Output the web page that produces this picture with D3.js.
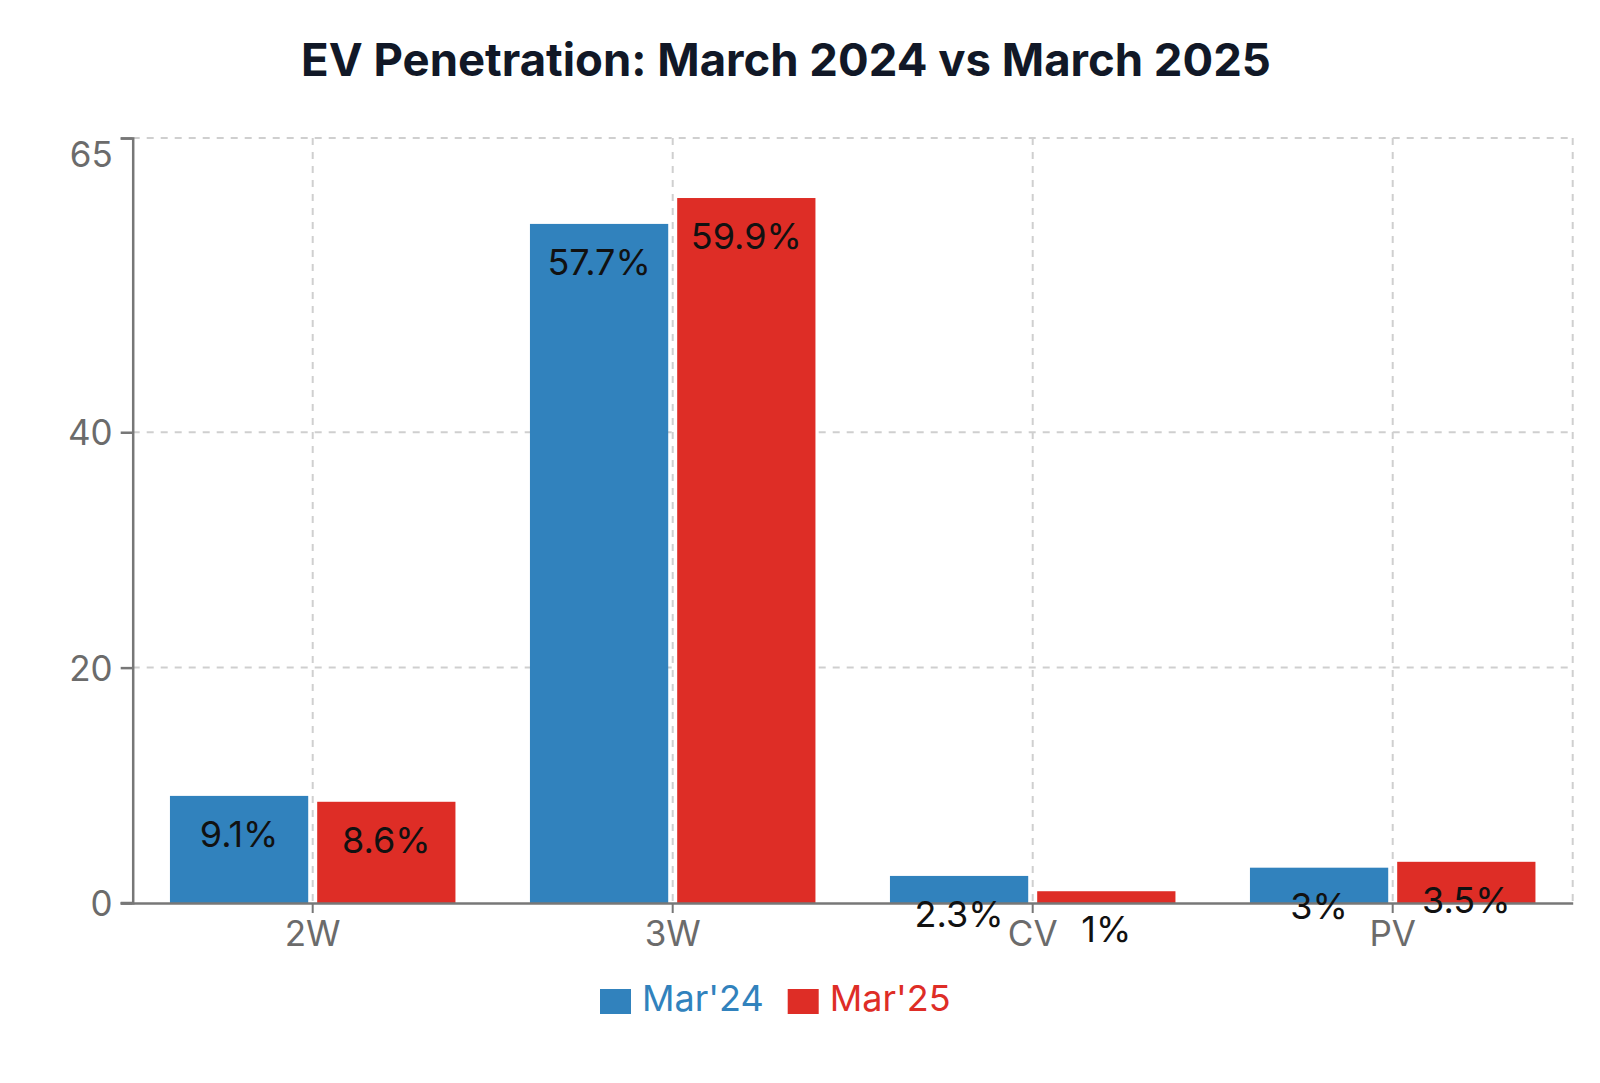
<!DOCTYPE html>
<html lang="en">
<head>
<meta charset="UTF-8">
<title>EV Penetration</title>
<style>
  body { margin: 0; background: #fff; }
  svg text { font-family: Inter, "Noto Sans", sans-serif; }
</style>
</head>
<body>
<script src="https://d3js.org/d3.v7.min.js"></script>
<div id="chart"></div>
<script>
// data
var categories = ["2W", "3W", "CV", "PV"];
var seriesNames = ["Mar'24", "Mar'25"];
var mar24 = [9.1, 57.7, 2.3, 3.0];
var mar25 = [8.6, 59.9, 1.0, 3.5];
var valueLabels24 = ["9.1%", "57.7%", "2.3%", "3%"];
var valueLabels25 = ["8.6%", "59.9%", "1%", "3.5%"];
var yTicks = [0, 20, 40, 65];
var colors = ["#3182bd", "#de2d26"];

var W = 1600, H = 1083;
var margin = {top: 138, right: 27.3, bottom: 180, left: 132.7};
var width = W - margin.left - margin.right,
    height = H - margin.top - margin.bottom;

var svg = d3.select("#chart").append("svg")
    .attr("width", W).attr("height", H);

// title
svg.append("text")
    .attr("x", 786).attr("y", 76)
    .attr("text-anchor", "middle")
    .style("font-size", "45.5px").style("font-weight", 700)
    .style("fill", "#111827")
    .text("EV Penetration: March 2024 vs March 2025");

var g = svg.append("g")
    .attr("transform", "translate(" + margin.left + "," + margin.top + ")");

var x = d3.scaleBand().domain(categories).range([0, width]);
var xSub = d3.scaleBand().domain(seriesNames).range([0, x.bandwidth()])
    .paddingInner(0.061).paddingOuter(0.253);
var y = d3.scaleLinear().domain([0, 65]).range([height, 0]);

// grid
var grid = g.append("g").attr("stroke", "#cfcfcf").attr("stroke-width", 2)
    .attr("stroke-dasharray", "7,7");
grid.selectAll(".hg").data(yTicks.filter(function(d) { return d > 0; }))
  .enter().append("line")
    .attr("x1", 0).attr("x2", width)
    .attr("y1", function(d) { return y(d); })
    .attr("y2", function(d) { return y(d); });
grid.selectAll(".vg").data(categories)
  .enter().append("line")
    .attr("x1", function(d) { return x(d) + x.bandwidth() / 2; })
    .attr("x2", function(d) { return x(d) + x.bandwidth() / 2; })
    .attr("y1", 0).attr("y2", height);
grid.append("line")
    .attr("x1", width).attr("x2", width).attr("y1", 0).attr("y2", height);

// bars
var rows = categories.map(function(c, i) {
  return [
    {cat: c, s: seriesNames[0], v: mar24[i], lab: valueLabels24[i], col: colors[0]},
    {cat: c, s: seriesNames[1], v: mar25[i], lab: valueLabels25[i], col: colors[1]}
  ];
});
var flat = [].concat.apply([], rows);

g.selectAll("rect.bar").data(flat)
  .enter().append("rect")
    .attr("x", function(d) { return x(d.cat) + xSub(d.s); })
    .attr("y", function(d) { return y(d.v); })
    .attr("width", xSub.bandwidth())
    .attr("height", function(d) { return height - y(d.v); })
    .attr("fill", function(d) { return d.col; });

// axes
var axisCol = "#777";
var yAxis = g.append("g")
    .call(d3.axisLeft(y).tickValues(yTicks).tickSize(12).tickPadding(8).tickFormat(d3.format("d")));
yAxis.select(".domain").attr("stroke", axisCol).attr("stroke-width", 2.5);
yAxis.selectAll(".tick line").attr("stroke", axisCol).attr("stroke-width", 2.5);
yAxis.selectAll(".tick text")
    .style("font-size", "35px").style("fill", "#6b6b6b")
    .attr("dy", function(d) { return d === 65 ? "0.82em" : "0.36em"; });

var xAxis = g.append("g")
    .attr("transform", "translate(0," + height + ")")
    .call(d3.axisBottom(x).tickSize(10).tickPadding(8).tickSizeOuter(0));
xAxis.select(".domain").attr("stroke", axisCol).attr("stroke-width", 2.5);
xAxis.selectAll(".tick line").attr("stroke", axisCol).attr("stroke-width", 2);
xAxis.selectAll(".tick text")
    .style("font-size", "35px").style("fill", "#6b6b6b");
// extend baseline left to meet the 0 tick
g.append("line").attr("x1", -12).attr("x2", 0).attr("y1", height).attr("y2", height)
    .attr("stroke", axisCol).attr("stroke-width", 2.5);

// value labels
g.selectAll("text.val").data(flat)
  .enter().append("text")
    .attr("x", function(d) { return x(d.cat) + xSub(d.s) + xSub.bandwidth() / 2; })
    .attr("y", function(d) { return y(d.v) + 38; })
    .attr("dy", "0.36em")
    .attr("text-anchor", "middle")
    .style("font-size", "36px").style("fill", "#111")
    .text(function(d) { return d.lab; });

// legend
var legendX = [600, 787.7];
var lg = svg.selectAll("g.leg").data(seriesNames)
  .enter().append("g")
    .attr("transform", function(d, i) { return "translate(" + legendX[i] + ",989)"; });
lg.append("rect").attr("width", 31).attr("height", 25)
    .attr("fill", function(d, i) { return colors[i]; });
lg.append("text").attr("x", 42).attr("y", 22)
    .style("font-size", "36px")
    .style("fill", function(d, i) { return colors[i]; })
    .text(function(d) { return d; });
</script>
</body>
</html>
